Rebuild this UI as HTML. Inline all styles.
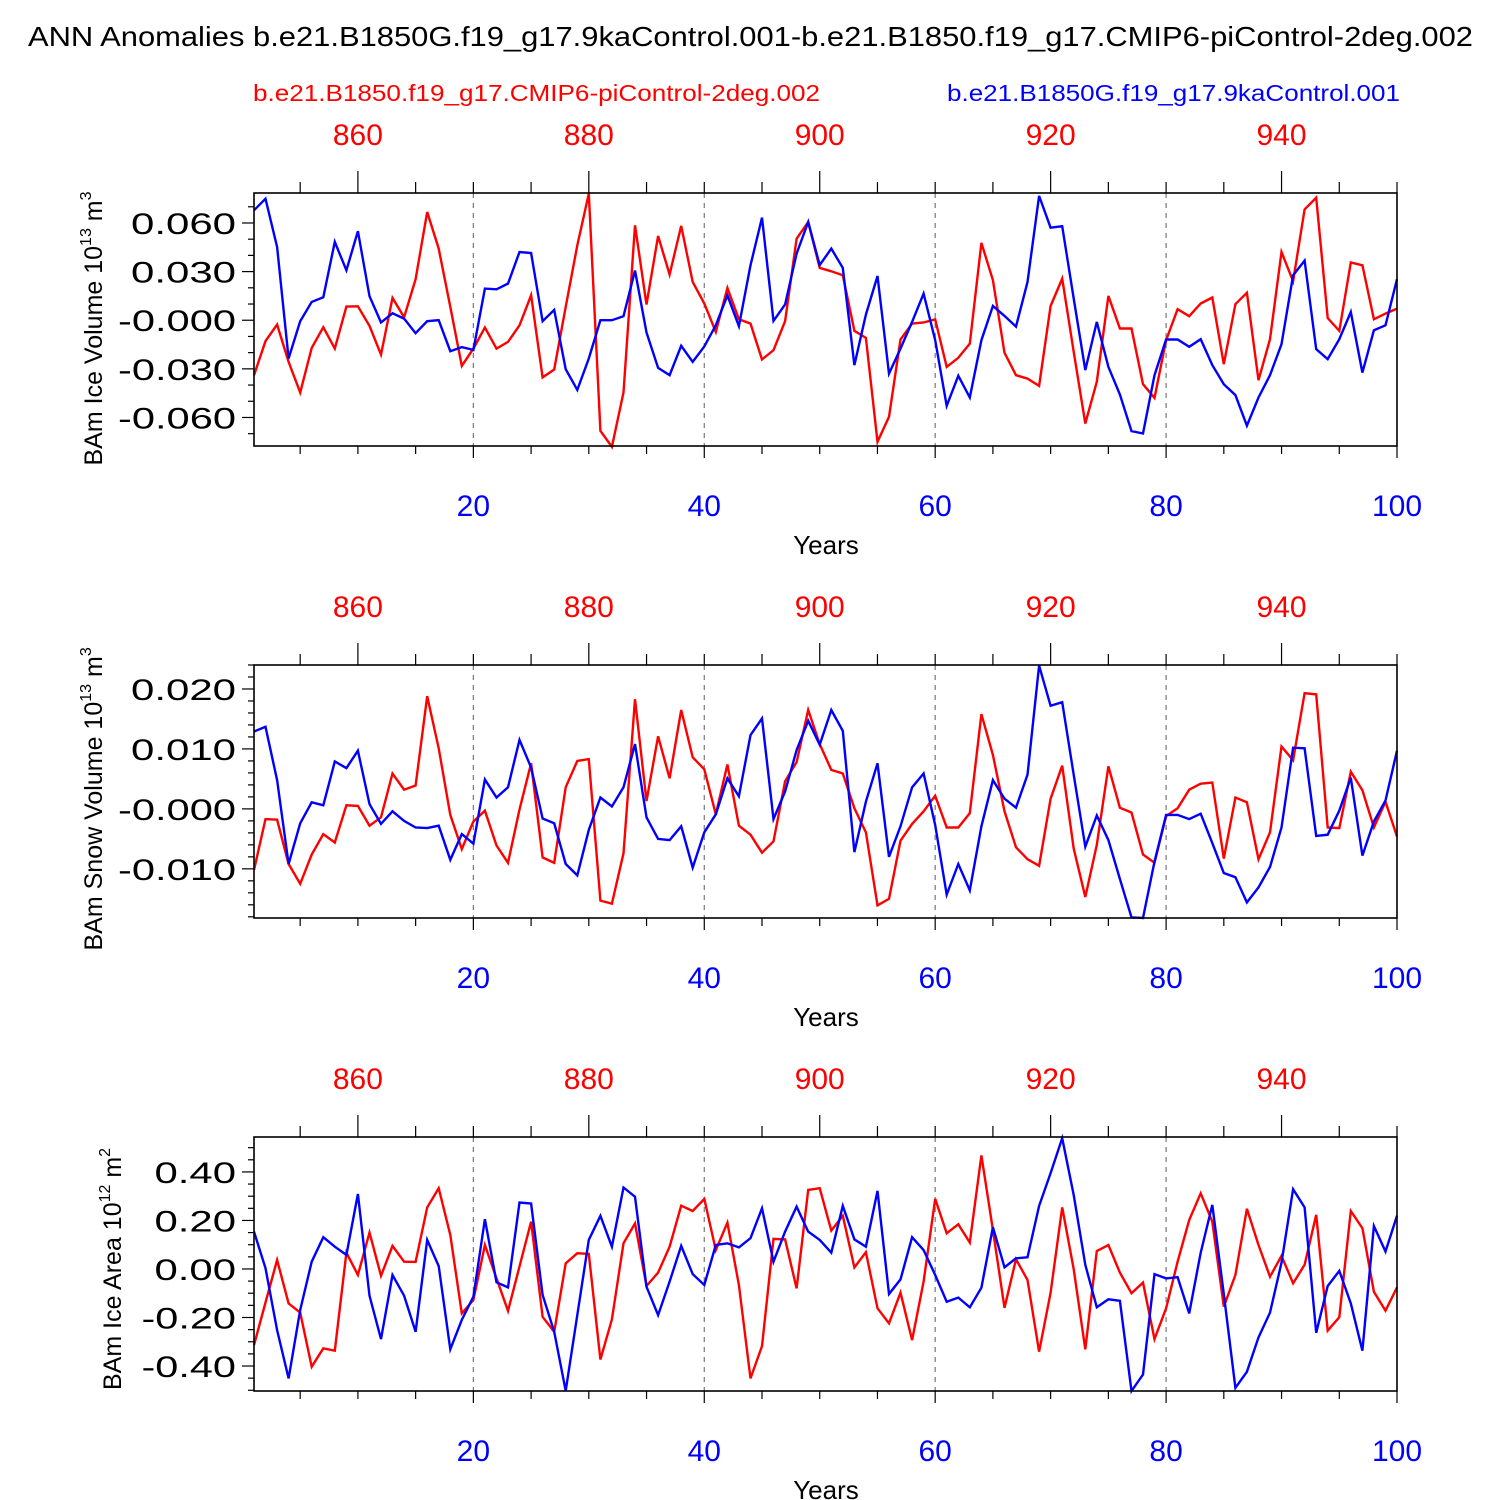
<!DOCTYPE html>
<html><head><meta charset="utf-8"><style>
html,body{margin:0;padding:0;background:#fff;}
svg{display:block;font-family:"Liberation Sans",Arial,sans-serif;}
</style></head><body>
<svg id="chart" width="1500" height="1500" viewBox="0 0 1500 1500">
<text x="28" y="46" font-size="28" textLength="1445" lengthAdjust="spacingAndGlyphs">ANN Anomalies b.e21.B1850G.f19_g17.9kaControl.001-b.e21.B1850.f19_g17.CMIP6-piControl-2deg.002</text>
<text x="253" y="101" font-size="23" fill="#ff0000" textLength="567" lengthAdjust="spacingAndGlyphs">b.e21.B1850.f19_g17.CMIP6-piControl-2deg.002</text>
<text x="947" y="101" font-size="23" fill="#0000ff" textLength="453" lengthAdjust="spacingAndGlyphs">b.e21.B1850G.f19_g17.9kaControl.001</text>
</svg>
<script>
const years = Array.from({length:100},(_,i)=>i+1);
const iceVolBlue=[0.0678,0.0750,0.0452,-0.0236,-0.0006,0.0113,0.0142,0.0483,0.0308,0.0549,0.0148,-0.0014,0.0043,0.0010,-0.0080,-0.0006,0,-0.0191,-0.0166,-0.0183,0.0195,0.0191,0.0226,0.0421,0.0415,-0.0006,0.0064,-0.0302,-0.0430,-0.0236,0,0,0.0025,0.0306,-0.0076,-0.0294,-0.0339,-0.0158,-0.0257,-0.0162,-0.0031,0.0154,-0.0037,0.0339,0.0633,-0.0004,0.0097,0.0411,0.0606,0.0340,0.0442,0.0323,-0.0277,0.0035,0.0273,-0.0329,-0.0175,-0.0010,0.0164,-0.0123,-0.0528,-0.0343,-0.0477,-0.0123,0.0088,0.0027,-0.0039,0.0236,0.0767,0.0571,0.0580,0.0134,-0.0308,-0.0010,-0.0288,-0.0458,-0.0684,-0.0699,-0.0339,-0.0119,-0.0119,-0.0164,-0.0117,-0.0277,-0.0395,-0.0462,-0.0651,-0.0477,-0.0339,-0.0148,0.0277,0.0368,-0.0179,-0.0240,-0.0117,0.0051,-0.0323,-0.0062,-0.0031,0.0253];
const iceVolRed=[-0.0339,-0.0129,-0.0027,-0.0257,-0.0446,-0.0171,-0.0043,-0.0175,0.0084,0.0086,-0.0035,-0.0212,0.0138,0.0018,0.0253,0.0668,0.0442,0.0082,-0.0282,-0.0175,-0.0045,-0.0175,-0.0134,-0.0031,0.0154,-0.0353,-0.0304,0.0082,0.0462,0.0781,-0.0682,-0.0781,-0.0446,0.0586,0.0097,0.0520,0.0282,0.0582,0.0236,0.0103,-0.0072,0.0199,0.0006,-0.0021,-0.0242,-0.0185,-0.0006,0.0503,0.0606,0.0323,0.0302,0.0277,-0.0066,-0.0109,-0.0750,-0.0596,-0.0119,-0.0021,-0.0014,0.0006,-0.0288,-0.0232,-0.0144,0.0477,0.0247,-0.0201,-0.0339,-0.0360,-0.0405,0.0088,0.0257,-0.0195,-0.0637,-0.0380,0.0150,-0.0051,-0.0051,-0.0395,-0.0479,-0.0123,0.0068,0.0025,0.0103,0.0140,-0.0271,0.0099,0.0169,-0.0370,-0.0117,0.0421,0.0240,0.0684,0.0756,0.0014,-0.0066,0.0356,0.0339,0.0006,0.0041,0.0072];
const snowBlue=[0.0129,0.0137,0.0048,-0.0092,-0.0024,0.0011,0.0006,0.0079,0.0068,0.0097,0.0008,-0.0025,-0.0004,-0.0020,-0.0031,-0.0032,-0.0028,-0.0085,-0.0042,-0.0058,0.0049,0.0019,0.0036,0.0115,0.0069,-0.0016,-0.0024,-0.0092,-0.0111,-0.0035,0.0019,0.0004,0.0036,0.0108,-0.0014,-0.0050,-0.0052,-0.0029,-0.0098,-0.0039,-0.0009,0.0051,0.0021,0.0123,0.0151,-0.0017,0.0029,0.0098,0.0147,0.0107,0.0165,0.0130,-0.0072,0.0012,0.0076,-0.0080,-0.0029,0.0036,0.0059,-0.0027,-0.0143,-0.0092,-0.0136,-0.0029,0.0048,0.0017,0.0002,0.0057,0.0239,0.0172,0.0178,0.0057,-0.0063,-0.0011,-0.0052,-0.0117,-0.0181,-0.0182,-0.0088,-0.0010,-0.0010,-0.0017,-0.0008,-0.0057,-0.0107,-0.0114,-0.0156,-0.0131,-0.0097,-0.0031,0.0102,0.0101,-0.0045,-0.0043,-0.0003,0.0052,-0.0078,-0.0021,0.0014,0.0097];
const snowRed=[-0.0102,-0.0017,-0.0018,-0.0092,-0.0125,-0.0076,-0.0042,-0.0056,0.0006,0.0005,-0.0028,-0.0014,0.0059,0.0032,0.0039,0.0188,0.0101,-0.0010,-0.0067,-0.0021,-0.0003,-0.0061,-0.0090,-0.0001,0.0076,-0.0081,-0.0090,0.0036,0.0080,0.0083,-0.0153,-0.0158,-0.0074,0.0183,0.0013,0.0121,0.0051,0.0165,0.0086,0.0066,-0.0009,0.0074,-0.0028,-0.0043,-0.0073,-0.0054,0.0046,0.0078,0.0165,0.0108,0.0065,0.0059,0.0001,-0.0039,-0.0161,-0.0150,-0.0053,-0.0025,-0.0004,0.0022,-0.0031,-0.0031,-0.0007,0.0158,0.0090,-0.0004,-0.0064,-0.0084,-0.0095,0.0017,0.0072,-0.0066,-0.0147,-0.0060,0.0071,0.0002,-0.0006,-0.0076,-0.0090,-0.0012,0.0001,0.0032,0.0042,0.0044,-0.0083,0.0019,0.0011,-0.0084,-0.0039,0.0104,0.0081,0.0193,0.0191,-0.0031,-0.0032,0.0062,0.0031,-0.0031,0.0012,-0.0046];
const areaBlue=[0.154,0.003,-0.252,-0.451,-0.169,0.030,0.131,0.092,0.058,0.309,-0.110,-0.289,-0.025,-0.110,-0.259,0.120,0.012,-0.331,-0.210,-0.114,0.205,-0.055,-0.076,0.274,0.270,-0.107,-0.259,-0.502,-0.190,0.120,0.219,0.092,0.336,0.298,-0.073,-0.190,-0.052,0.095,-0.021,-0.066,0.099,0.106,0.089,0.127,0.250,0.030,0.154,0.257,0.154,0.120,0.067,0.260,0.122,0.092,0.322,-0.103,-0.043,0.131,0.078,-0.025,-0.135,-0.118,-0.158,-0.077,0.172,0.007,0.044,0.048,0.260,0.395,0.539,0.305,0.017,-0.158,-0.125,-0.131,-0.503,-0.435,-0.021,-0.039,-0.034,-0.183,0.067,0.264,-0.103,-0.490,-0.424,-0.282,-0.180,0.026,0.329,0.254,-0.263,-0.070,-0.008,-0.142,-0.337,0.177,0.072,0.219];
const areaRed=[-0.314,-0.138,0.037,-0.142,-0.180,-0.403,-0.327,-0.337,0.067,-0.025,0.150,-0.028,0.095,0.030,0.029,0.254,0.333,0.140,-0.183,-0.128,0.099,-0.039,-0.173,0.010,0.195,-0.197,-0.259,0.023,0.065,0.062,-0.373,-0.208,0.106,0.188,-0.070,-0.015,0.092,0.261,0.239,0.289,0.078,0.191,-0.066,-0.451,-0.318,0.124,0.122,-0.080,0.326,0.333,0.158,0.219,0.006,0.069,-0.162,-0.224,-0.098,-0.293,-0.052,0.289,0.147,0.184,0.109,0.468,0.161,-0.160,0.040,-0.045,-0.341,-0.098,0.254,-0.001,-0.331,0.074,0.099,-0.015,-0.100,-0.056,-0.289,-0.162,0.030,0.202,0.312,0.195,-0.155,-0.025,0.248,0.099,-0.032,0.054,-0.059,0.017,0.223,-0.254,-0.199,0.239,0.168,-0.094,-0.172,-0.076];
const bottomTicks=[20,40,60,80,100];
const topTickLabels=[860,880,900,920,940];
const yearOffset=850;

const NS="http://www.w3.org/2000/svg";
const svg=document.getElementById('chart');
function mk(tag,attrs,parent){const e=document.createElementNS(NS,tag);for(const k in attrs)e.setAttribute(k,attrs[k]);(parent||svg).appendChild(e);return e;}

const panels=[
 {top:193,bot:446,ymin:-0.0776,ymax:0.0785,major:[-0.06,-0.03,0,0.03,0.06],dec:3,minor:0.01,blue:iceVolBlue,red:iceVolRed,label:'BAm Ice Volume 10',sup:'13',unit:' m',usup:'3',name:'ice-volume',tx:102,tl:292},
 {top:665,bot:918,ymin:-0.0182,ymax:0.0240,major:[-0.01,0,0.01,0.02],dec:3,minor:0.002,blue:snowBlue,red:snowRed,label:'BAm Snow Volume 10',sup:'13',unit:' m',usup:'3',name:'snow-volume',tx:102,tl:318},
 {top:1137,bot:1391,ymin:-0.503,ymax:0.544,major:[-0.4,-0.2,0,0.2,0.4],dec:2,minor:0.05,blue:areaBlue,red:areaRed,label:'BAm Ice Area 10',sup:'12',unit:' m',usup:'2',name:'ice-area',tx:121,tl:252}
];
const X0=254,X1=1397;
const xs=v=>X0+(v-1)*(X1-X0)/99;

panels.forEach((p,pi)=>{
 const g=mk('g',{});
 
 
 const ys=v=>p.bot-(v-p.ymin)/(p.ymax-p.ymin)*(p.bot-p.top);
 [20,40,60,80].forEach(t=>{const l=mk('line',{x1:xs(t),x2:xs(t),y1:p.top,y2:p.bot,stroke:'#777','stroke-width':1.2,'stroke-dasharray':'5,5'},g);
  
  });
 const lo=Math.ceil(p.ymin/p.minor-1e-6),hi=Math.floor(p.ymax/p.minor+1e-6);
 for(let k=lo;k<=hi;k++){const v=k*p.minor;const isMaj=p.major.some(m=>Math.abs(m-v)<p.minor/10);
  mk('line',{x1:X0-(isMaj?12:6),x2:X0,y1:ys(v),y2:ys(v),stroke:'#000','stroke-width':1.2},g);}
 p.major.forEach(v=>{let s=v.toFixed(p.dec);if(Math.abs(v)<1e-9)s=(pi<2?'-':'')+(0).toFixed(p.dec);
  const nd=(s.match(/[0-9]/g)||[]).length, nm=s.startsWith('-')?1:0;
  const w=nd*23.5+11+nm*13;
  const t=mk('text',{x:236-w,y:ys(v)+11,'font-size':30,textLength:w,lengthAdjust:'spacingAndGlyphs'},g);t.textContent=s;
  
  });
 for(let v=5;v<=100;v+=5){const isMaj=v%20===0;mk('line',{x1:xs(v),x2:xs(v),y1:p.bot,y2:p.bot+(isMaj?12:8),stroke:'#000','stroke-width':1.2},g);}
 for(let v=5;v<=100;v+=5){const isMaj=(v+yearOffset)%20===0;mk('line',{x1:xs(v),x2:xs(v),y1:p.top-(isMaj?22:11),y2:p.top,stroke:'#000','stroke-width':1.2},g);}
 bottomTicks.forEach(v=>{const t=mk('text',{x:xs(v),y:p.bot+70,'text-anchor':'middle','font-size':30,fill:'#0000ff'},g);t.textContent=v;
  
  });
 topTickLabels.forEach(v=>{const t=mk('text',{x:xs(v-yearOffset),y:p.top-48,'text-anchor':'middle','font-size':30,fill:'#ff0000'},g);t.textContent=v;
  
  });
 const xt=mk('text',{x:826,y:p.bot+108,'text-anchor':'middle','font-size':26},g);xt.textContent='Years';
 
 
 const cy=(p.top+p.bot)/2;
 const yt=mk('text',{x:-p.tl/2,y:0,'font-size':25,transform:`translate(${p.tx},${cy}) rotate(-90)`},g);
 
 
 yt.innerHTML=`${p.label}<tspan dy="-11" font-size="16">${p.sup}</tspan><tspan dy="11">${p.unit}</tspan><tspan dy="-11" font-size="16">${p.usup}</tspan>`;
 const line=(arr,col,nm)=>{const d=arr.map((v,i)=>(i?'L':'M')+xs(years[i]).toFixed(1)+','+ys(v).toFixed(1)).join('');
  const pa=mk('path',{d:d,fill:'none',stroke:col,'stroke-width':2.4,'stroke-linejoin':'miter'},g);
  
  };
 line(p.red,'#ff0000',p.name+'-red-series');
 line(p.blue,'#0000ff',p.name+'-blue-series');
 const fr=mk('rect',{x:X0,y:p.top,width:X1-X0,height:p.bot-p.top,fill:'none',stroke:'#000','stroke-width':1.6},g);
 
 
});
</script>
</body></html>
